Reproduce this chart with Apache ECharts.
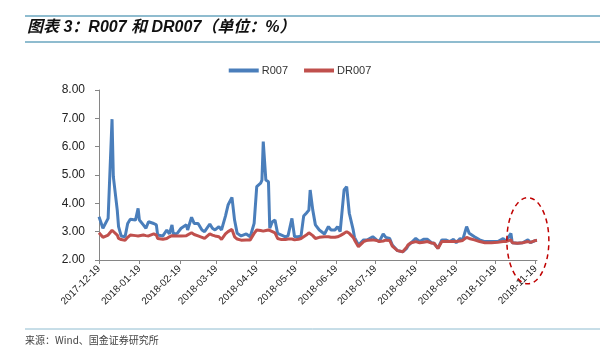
<!DOCTYPE html>
<html>
<head>
<meta charset="utf-8">
<script src="https://cdn.jsdelivr.net/npm/echarts@6/dist/echarts.min.js"></script>
<style>
html,body{margin:0;padding:0;background:#fff;}
#chart{width:600px;height:357px;}
</style>
</head>
<body>
<div id="chart"></div>
<script>
// ---- data ----
const titleText = '图表 3：R007 和 DR007（单位：%）';
const sourceText = '来源：Wind、国金证券研究所';
const seriesNames = ['R007', 'DR007'];
const axisStart = '2017-12-19';
const axisEnd = '2018-11-20';
const yTicks = [2, 3, 4, 5, 6, 7, 8];

const dates = [
'2017-12-19','2017-12-22','2017-12-26','2017-12-29','2017-12-30','2018-01-02','2018-01-03','2018-01-05','2018-01-08','2018-01-10',
'2018-01-12','2018-01-16','2018-01-18','2018-01-19','2018-01-22','2018-01-24','2018-01-26','2018-01-30','2018-02-01','2018-02-02',
'2018-02-06','2018-02-09','2018-02-11','2018-02-13','2018-02-14','2018-02-17','2018-02-20','2018-02-24','2018-02-25','2018-02-28',
'2018-03-02','2018-03-05','2018-03-08','2018-03-10','2018-03-14','2018-03-16','2018-03-18','2018-03-21','2018-03-23','2018-03-26',
'2018-03-28','2018-03-31','2018-04-02','2018-04-04','2018-04-07','2018-04-11','2018-04-14','2018-04-17','2018-04-19','2018-04-22',
'2018-04-23','2018-04-24','2018-04-26','2018-04-28','2018-04-29','2018-05-01','2018-05-03','2018-05-05','2018-05-08','2018-05-11',
'2018-05-13','2018-05-14','2018-05-16','2018-05-18','2018-05-21','2018-05-23','2018-05-25','2018-05-27','2018-05-29','2018-05-30',
'2018-06-01','2018-06-03','2018-06-06','2018-06-10','2018-06-13','2018-06-15','2018-06-18','2018-06-20','2018-06-22','2018-06-25',
'2018-06-27','2018-06-29','2018-07-02','2018-07-03','2018-07-06','2018-07-10','2018-07-13','2018-07-17','2018-07-20','2018-07-22',
'2018-07-25','2018-07-27','2018-07-30','2018-08-01','2018-08-05','2018-08-09','2018-08-12','2018-08-13','2018-08-15','2018-08-19',
'2018-08-22','2018-08-25','2018-08-28','2018-08-31','2018-09-02','2018-09-05','2018-09-08','2018-09-11','2018-09-14','2018-09-17',
'2018-09-19','2018-09-22','2018-09-24','2018-09-27','2018-09-29','2018-10-03','2018-10-07','2018-10-11','2018-10-16','2018-10-21',
'2018-10-25','2018-10-27','2018-10-31','2018-11-01','2018-11-05','2018-11-09','2018-11-13','2018-11-15','2018-11-19','2018-11-20'
];

const r007 = [
3.53,3.12,3.47,6.97,4.94,3.76,3.18,2.85,2.82,3.29,
3.44,3.41,3.82,3.41,3.24,3.12,3.35,3.29,3.24,2.88,
2.85,3.06,2.92,3.24,2.92,2.94,3.12,3.24,3.06,3.51,
3.29,3.29,3.06,3.00,3.27,3.12,3.06,3.18,3.06,3.55,
3.94,4.21,3.41,2.94,2.85,2.92,2.82,3.29,4.59,4.71,
4.82,6.18,4.82,4.76,3.12,3.35,3.41,2.94,2.88,2.82,
2.85,3.06,3.47,2.82,2.82,2.85,3.55,3.65,3.76,4.47,
3.76,3.24,3.06,2.92,3.18,3.06,3.06,3.18,3.00,4.47,
4.59,3.65,3.06,2.80,2.53,2.71,2.71,2.82,2.71,2.65,
2.92,2.80,2.76,2.53,2.33,2.29,2.41,2.50,2.59,2.76,
2.65,2.73,2.73,2.61,2.59,2.41,2.71,2.71,2.65,2.73,
2.61,2.76,2.71,3.18,2.94,2.82,2.71,2.65,2.65,2.65,
2.76,2.65,2.94,2.61,2.59,2.61,2.71,2.61,2.69,2.70
];

const dr007 = [
2.96,2.80,2.88,3.05,3.06,2.88,2.76,2.72,2.70,2.80,
2.88,2.86,2.85,2.86,2.88,2.86,2.85,2.92,2.88,2.76,
2.73,2.76,2.82,2.86,2.85,2.85,2.85,2.86,2.88,2.96,
2.90,2.85,2.80,2.76,2.92,2.88,2.85,2.82,2.73,2.92,
3.00,3.08,2.82,2.74,2.70,2.71,2.71,2.94,3.06,3.04,
3.02,3.02,3.04,3.06,3.02,3.00,2.96,2.76,2.72,2.72,
2.74,2.76,2.74,2.71,2.73,2.76,2.82,2.88,2.96,2.96,
2.86,2.76,2.80,2.82,2.82,2.80,2.80,2.82,2.86,2.94,
3.00,2.94,2.80,2.71,2.47,2.65,2.70,2.71,2.69,2.65,
2.67,2.70,2.69,2.49,2.33,2.29,2.45,2.53,2.60,2.65,
2.61,2.63,2.65,2.60,2.59,2.41,2.65,2.65,2.65,2.65,
2.65,2.67,2.69,2.80,2.76,2.71,2.65,2.61,2.61,2.63,
2.65,2.65,2.71,2.61,2.59,2.61,2.65,2.62,2.69,2.69
];

(function(){
// ---- build the calendar-day category axis ----
function fmt(d){
  const m = d.getUTCMonth()+1, dd = d.getUTCDate();
  return d.getUTCFullYear() + '-' + (m<10?'0':'') + m + '-' + (dd<10?'0':'') + dd;
}
const days = [];
const s = new Date(axisStart + 'T00:00:00Z'), e = new Date(axisEnd + 'T00:00:00Z');
for (let t = s.getTime(); t <= e.getTime(); t += 86400000) days.push(fmt(new Date(t)));
function toFull(vals){
  const map = {};
  dates.forEach((d,i)=>{ map[d] = vals[i]; });
  return days.map(d => (d in map) ? map[d] : null);
}
const isLabelDay = (idx, val) => val.slice(8) === '19';

const chart = echarts.init(document.getElementById('chart'), null, {renderer:'canvas'});
const blue = '#4a7ebb', red = '#c0504d', rule = '#6aa6bf';
const option = {
  animation: false,
  backgroundColor: '#fff',
  textStyle: {fontFamily: 'Liberation Sans, Arial, sans-serif'},
  legend: {
    top: 60, left: 'center',
    itemWidth: 30, itemHeight: 4, itemGap: 16,
    icon: 'rect',
    textStyle: {fontSize: 11, color: '#333', padding:[0,0,0,-2]},
    data: seriesNames
  },
  grid: {left: 99, right: 63, top: 90, bottom: 97, containLabel: false},
  xAxis: {
    type: 'category',
    data: days,
    boundaryGap: false,
    axisLine: {lineStyle: {color: '#868686', width: 1}},
    axisTick: {interval: isLabelDay, length: 4, lineStyle: {color: '#868686'}},
    axisLabel: {interval: isLabelDay, rotate: 45, fontSize: 10, color: '#222', margin: 7},
    splitLine: {show: false}
  },
  yAxis: {
    type: 'value',
    min: yTicks[0], max: yTicks[yTicks.length-1], interval: 1,
    axisLine: {show: true, lineStyle: {color: '#868686', width: 1}},
    axisTick: {show: true, length: 4, lineStyle: {color: '#868686'}},
    axisLabel: {fontSize: 12, color: '#222', margin: 14, formatter: v => v.toFixed(2)},
    splitLine: {show: false}
  },
  series: [
    {name: seriesNames[0], type: 'line', data: toFull(r007), connectNulls: true, showSymbol: false,
     lineStyle: {color: blue, width: 3}, itemStyle: {color: blue}},
    {name: seriesNames[1], type: 'line', data: toFull(dr007), connectNulls: true, showSymbol: false,
     lineStyle: {color: red, width: 3}, itemStyle: {color: red}}
  ],
  graphic: [
    {id: 'l1', type: 'line', shape: {x1: 25, y1: 16, x2: 600, y2: 16}, style: {stroke: rule, lineWidth: 1.5}},
    {id: 'l2', type: 'line', shape: {x1: 25, y1: 42, x2: 600, y2: 42}, style: {stroke: rule, lineWidth: 1.5}},
    {id: 't1', type: 'text', left: 27, top: 20, style: {text: titleText, font: 'italic bold 16px "Liberation Sans", "Noto Sans CJK SC", sans-serif', fill: '#111'}},
    {id: 'l3', type: 'line', shape: {x1: 25, y1: 329, x2: 600, y2: 329}, style: {stroke: '#8fbcd0', lineWidth: 1}},
    {id: 't2', type: 'text', left: 25, top: 335, style: {text: sourceText, font: '10px "Noto Sans CJK SC", sans-serif', fill: '#444'}}
  ]
};
chart.setOption(option);

// dashed ellipse annotation placed from data coordinates
const c = chart.convertToPixel({gridIndex: 0}, ['2018-11-13', 2.68]);
const tp = chart.convertToPixel({gridIndex: 0}, ['2018-11-13', 4.2]);
const ry = c[1] - tp[1];
chart.setOption({
  graphic: [{type: 'ellipse', id: 'ring', shape: {cx: c[0], cy: c[1], rx: 21, ry: ry},
    style: {fill: 'none', stroke: '#c00000', lineWidth: 1.5, lineDash: [5, 4]}, z: 10}]
});
})();
</script>
</body>
</html>
